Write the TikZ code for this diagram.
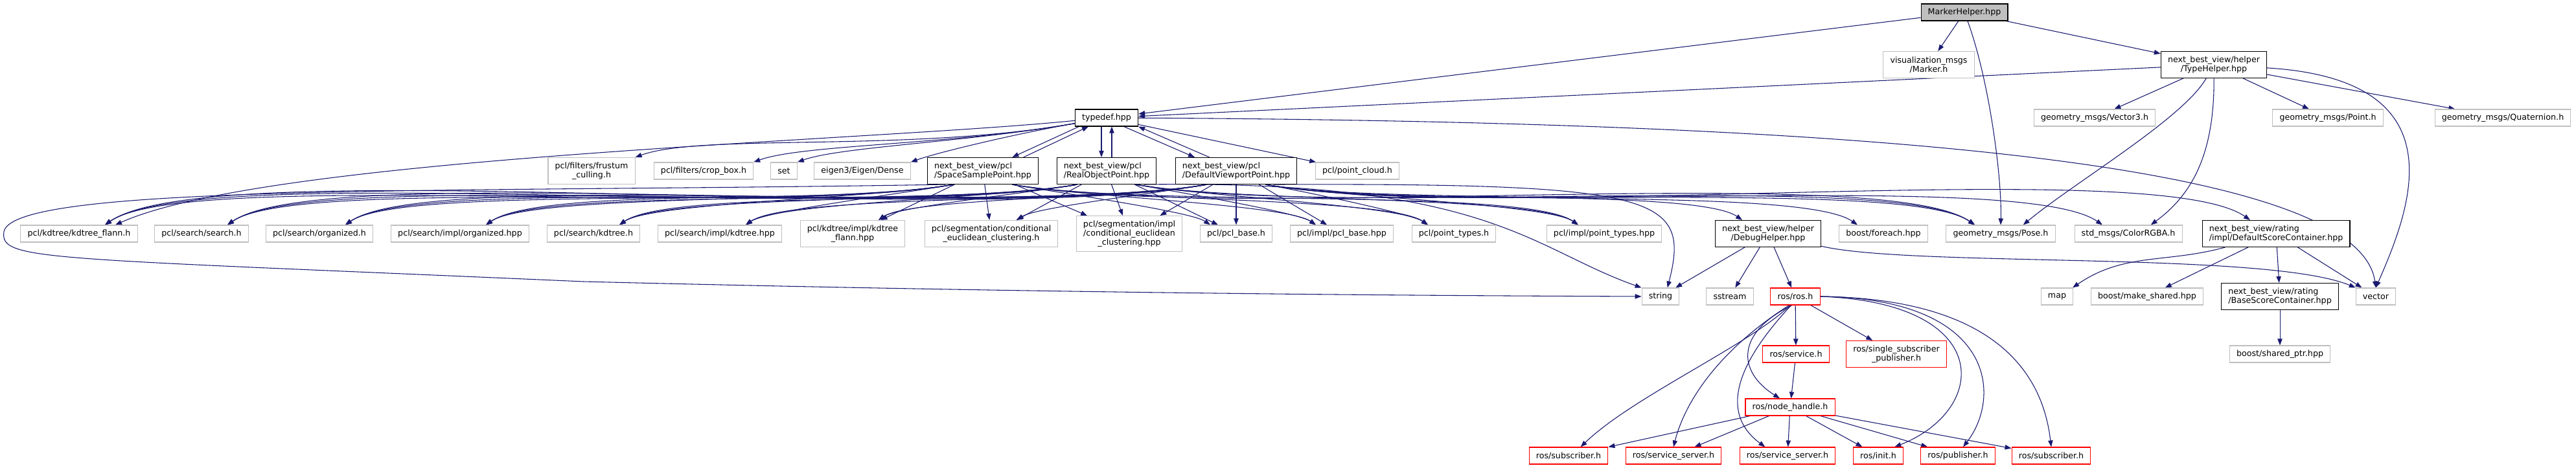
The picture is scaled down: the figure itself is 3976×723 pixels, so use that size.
\documentclass[tikz,border=0pt]{standalone}
\usepackage{fontspec}
\setmainfont{DejaVu Sans}
\usetikzlibrary{arrows.meta,backgrounds,calc}
\definecolor{edgeblue}{HTML}{191970}
\definecolor{extgray}{HTML}{BFBFBF}
\definecolor{trunc}{HTML}{FF0000}

\begin{document}
\begin{tikzpicture}[x=0.75pt,y=0.75pt,
 hdr/.style={draw=extgray,fill=white,line width=0.8pt,inner xsep=8pt,inner ysep=1pt,minimum height=19.5pt,align=center,font=\fontsize{9.5}{10.3}\selectfont},
 doc/.style={hdr,draw=black},
 trunchdr/.style={hdr,draw=trunc},
 two/.style={minimum height=30.75pt},
 three/.style={minimum height=41pt},
 dep/.style={draw=edgeblue,line width=0.8pt,-{Triangle[length=7.5pt,width=5.5pt]}}]
\useasboundingbox (0,0) rectangle (3976,723);
% top: the file and what it pulls in directly
\node[doc,fill=extgray] (mh) at (3032,704) {MarkerHelper.hpp};
\node[hdr,two] (vis) at (2977,623) {visualization\_msgs\\/Marker.h};
\node[doc,two] (th) at (3417,623) {next\_best\_view/helper\\/TypeHelper.hpp};
\node[doc] (td) at (1708,541) {typedef.hpp};
\node[hdr] (v3) at (3233,541) {geometry\_msgs/Vector3.h};
\node[hdr] (pt) at (3593,541) {geometry\_msgs/Point.h};
\node[hdr] (qt) at (3863,541) {geometry\_msgs/Quaternion.h};
% typedef row
\node[hdr,two] (fc) at (913,459) {pcl/filters/frustum\\\_culling.h};
\node[hdr] (cb) at (1086,459) {pcl/filters/crop\_box.h};
\node[hdr] (set) at (1210,459) {set};
\node[hdr] (eig) at (1331,459) {eigen3/Eigen/Dense};
\node[doc,two,align=left] (sspt) at (1517,459) {next\_best\_view/pcl\\/SpaceSamplePoint.hpp};
\node[doc,two,align=left] (ropt) at (1708,459) {next\_best\_view/pcl\\/RealObjectPoint.hpp};
\node[doc,two,align=left] (dvpt) at (1908,459) {next\_best\_view/pcl\\/DefaultViewportPoint.hpp};
\node[hdr] (pc) at (2095,459) {pcl/point\_cloud.h};
% pcl headers
\node[hdr] (kf) at (122,362) {pcl/kdtree/kdtree\_flann.h};
\node[hdr] (ss) at (311,362) {pcl/search/search.h};
\node[hdr] (so) at (493,362) {pcl/search/organized.h};
\node[hdr] (sio) at (710,362) {pcl/search/impl/organized.hpp};
\node[hdr] (sk) at (916,362) {pcl/search/kdtree.h};
\node[hdr] (sik) at (1111,362) {pcl/search/impl/kdtree.hpp};
\node[hdr,two] (kif) at (1316,362) {pcl/kdtree/impl/kdtree\\\_flann.hpp};
\node[hdr,two] (ce) at (1530,362) {pcl/segmentation/conditional\\\_euclidean\_clustering.h};
\node[hdr,three] (cei) at (1743,362) {pcl/segmentation/impl\\/conditional\_euclidean\\\_clustering.hpp};
\node[hdr] (pb) at (1908,362) {pcl/pcl\_base.h};
\node[hdr] (pbi) at (2071,362) {pcl/impl/pcl\_base.hpp};
\node[hdr] (ptt) at (2244,362) {pcl/point\_types.h};
\node[hdr] (pti) at (2476,362) {pcl/impl/point\_types.hpp};
\node[doc,two] (dh) at (2729,362) {next\_best\_view/helper\\/DebugHelper.hpp};
\node[hdr] (fe) at (2907,362) {boost/foreach.hpp};
\node[hdr] (pose) at (3088,362) {geometry\_msgs/Pose.h};
\node[hdr] (rgba) at (3285,362) {std\_msgs/ColorRGBA.h};
\node[doc,two,align=left] (dsc) at (3513,362) {next\_best\_view/rating\\/impl/DefaultScoreContainer.hpp};
% lower rows
\node[hdr] (str) at (2563,265) {string};
\node[hdr] (sst) at (2670,265) {sstream};
\node[trunchdr] (rosh) at (2771,265) {ros/ros.h};
\node[hdr] (map) at (3175,265) {map};
\node[hdr] (msh) at (3314,265) {boost/make\_shared.hpp};
\node[doc,two,align=left] (bsc) at (3519,265) {next\_best\_view/rating\\/BaseScoreContainer.hpp};
\node[hdr] (vec) at (3667,265) {vector};
\node[trunchdr] (srv) at (2772,176) {ros/service.h};
\node[trunchdr,two] (sspub) at (2927,176) {ros/single\_subscriber\\\_publisher.h};
\node[hdr] (sp) at (3519,176) {boost/shared\_ptr.hpp};
\node[trunchdr] (nh) at (2763,94) {ros/node\_handle.h};
\node[trunchdr] (sub1) at (2421,19) {ros/subscriber.h};
\node[trunchdr] (ss1) at (2583,19) {ros/service\_server.h};
\node[trunchdr] (ss2) at (2759,19) {ros/service\_server.h};
\node[trunchdr] (init) at (2899,19) {ros/init.h};
\node[trunchdr] (pub) at (3022,19) {ros/publisher.h};
\node[trunchdr] (sub2) at (3166,19) {ros/subscriber.h};

\begin{scope}[on background layer]
\fill[white] (0,0) rectangle (3976,723);
% MarkerHelper and TypeHelper
\draw[dep] (mh) -- (td); \draw[dep] (mh) -- (vis); \draw[dep] (mh) -- (th);
\draw[dep] (mh) .. controls (3070,600) and (3090,450) .. (pose.north);
\draw[dep] (th) -- (td);
\foreach \t in {v3,pt,qt} {\draw[dep] (th) -- (\t);}
\draw[dep] (th) .. controls (3370,540) and (3200,440) .. ([xshift=26pt]pose.north);
\draw[dep] (th) .. controls (3418,480) and (3380,420) .. ([xshift=26pt]rgba.north);
\draw[dep] (th) .. controls (3800,600) and (3720,400) .. (vec.north);
% typedef
\draw[dep] (td.185) .. controls (1347,505) and (416,482) .. ([xshift=42pt]kf.north);
\foreach \t in {fc,cb,set,eig} {\draw[dep] let \p1=(td.190), \p2=(\t.north east) in
 (\p1) .. controls +({0.38*(\x2-\x1)},{0.067*(\x2-\x1)}) and +({-0.15*(\x2-\x1)},{-0.055*(\x2-\x1)}) .. (\p2);}
\draw[dep] ([xshift=-32pt]td.south) -- ([xshift=34pt]sspt.north);
\draw[dep] ([xshift=47pt]sspt.north) -- ([xshift=-21pt]td.south);
\draw[dep] ([xshift=-6pt]td.south) -- ([xshift=-6pt]ropt.north);
\draw[dep] ([xshift=6pt]ropt.north) -- ([xshift=6pt]td.south);
\draw[dep] ([xshift=20pt]td.south) -- ([xshift=-48pt]dvpt.north);
\draw[dep] ([xshift=-31pt]dvpt.north) -- (td.south east);
\draw[dep] (td) -- (pc);
\draw[dep] (td) .. controls (2900,535) and (3640,470) .. (vec.north);
% the three point types
\foreach \s/\lt/\st/\rt in {%
 sspt/{kf,ss,so,sio,sk,sik}/{kif,ce,cei}/{pb,pbi,ptt,pti,pose},%
 ropt/{kf,ss,so,sio,sk,sik,kif}/{ce,cei,pb}/{pbi,ptt,pti,pose},%
 dvpt/{kf,ss,so,sio,sk,sik,kif,ce}/{cei,pb,pbi}/{ptt,pti,pose,dh,fe,rgba,dsc}}{%
 \foreach \t in \lt {\draw[dep] let \p1=(\s.205), \p2=([xshift=30pt]\t.north) in
  (\p1) .. controls +({0.23*(\x2-\x1)},{0.041*(\x2-\x1)}) and +({-0.096*(\x2-\x1)},{-0.067*(\x2-\x1)}) .. (\p2);}
 \foreach \t in \st {\draw[dep] (\s) -- (\t);}
 \foreach \t in \rt {\draw[dep] let \p1=(\s.-25), \p2=([xshift=-30pt]\t.north) in
  (\p1) .. controls +({0.23*(\x2-\x1)},{-0.041*(\x2-\x1)}) and +({-0.096*(\x2-\x1)},{0.067*(\x2-\x1)}) .. (\p2);}
}
\draw[dep] (sspt.200) .. controls (700,425) and (20,440) .. (6,365) .. controls (0,320) and (60,325) .. (900,288) .. controls (1700,268) and (2300,266) .. (str.west);
\draw[dep] (ropt.-20) .. controls (2300,445) and (2360,340) .. (str.north west);
\draw[dep] (dvpt.-20) .. controls (2560,440) and (2610,420) .. ([xshift=8pt]str.north);
% DebugHelper and ros
\draw[dep] (dh) -- (str); \draw[dep] (dh) -- (sst); \draw[dep] (dh) -- (rosh);
\draw[dep] (dh) .. controls (2950,310) and (3500,335) .. (vec.north west);
\draw[dep] (rosh) -- (srv); \draw[dep] (rosh) -- (sspub); \draw[dep] (srv) -- (nh);
\draw[dep] (rosh.250) .. controls (2680,210) and (2680,150) .. ([xshift=-12pt]nh.north);
\draw[dep] (rosh.240) .. controls (2700,190) and (2520,110) .. ([xshift=14pt]sub1.north);
\draw[dep] (rosh.235) .. controls (2650,180) and (2600,100) .. (ss1.north);
\draw[dep] (rosh.245) .. controls (2670,150) and (2660,80) .. ([xshift=-26pt]ss2.north);
\draw[dep] (rosh.east) .. controls (3080,255) and (3070,90) .. ([xshift=19pt]init.north);
\draw[dep] (rosh.east) .. controls (3080,262) and (3090,110) .. ([xshift=6pt]pub.north);
\draw[dep] (rosh.east) .. controls (3050,262) and (3150,170) .. (sub2.north);
\foreach \t in {sub1,ss1,ss2,init,pub,sub2} {\draw[dep] (nh) -- (\t);}
% score containers
\draw[dep] (dsc.195) .. controls (3343,316) and (3278,333) .. ([xshift=18pt]map.north);
\draw[dep] (dsc) -- (msh); \draw[dep] (dsc) -- (bsc); \draw[dep] (dsc) -- (vec);
\draw[dep] (bsc) -- (sp);
\end{scope}
\end{tikzpicture}
\end{document}
